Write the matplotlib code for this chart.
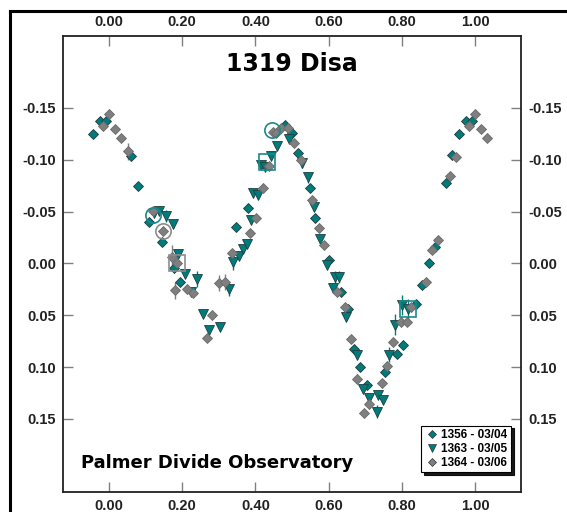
import numpy as np
import matplotlib
matplotlib.use("Agg")
import matplotlib.pyplot as plt
from matplotlib.lines import Line2D

plt.rcParams['font.family'] = ['Liberation Sans', 'DejaVu Sans']

# phase / magnitude data, phase in [0, 1)
ph_1356 = [0.060, 0.078, 0.108, 0.144, 0.178, 0.194, 0.346, 0.381, 0.482, 0.500,
           0.517, 0.548, 0.564, 0.600, 0.635, 0.654, 0.669, 0.686, 0.704, 0.753,
           0.786, 0.804, 0.839, 0.855, 0.874, 0.890, 0.921, 0.937, 0.957, 0.975, 0.993]
mag_1356 = [-0.104, -0.075, -0.040, -0.021, 0.004, 0.018, -0.035, -0.053, -0.134, -0.126,
            -0.107, -0.073, -0.044, -0.003, 0.028, 0.044, 0.083, 0.100, 0.117, 0.105,
            0.087, 0.079, 0.039, 0.021, 0.000, -0.016, -0.078, -0.105, -0.125, -0.137, -0.137]
err_1356 = [0, 0, 0, 0, 0, 0, 0, 0, 0, 0,
            0, 0, 0, 0, 0, 0, 0, 0, 0, 0,
            0, 0, 0, 0, 0, 0, 0, 0, 0, 0, 0]

ph_1363 = [0.124, 0.137, 0.156, 0.174, 0.189, 0.207, 0.223, 0.240, 0.258, 0.274,
           0.304, 0.329, 0.340, 0.356, 0.365, 0.376, 0.389, 0.394, 0.407, 0.415,
           0.425, 0.442, 0.458, 0.493, 0.527, 0.544, 0.560, 0.577, 0.595, 0.611,
           0.617, 0.628, 0.647, 0.677, 0.695, 0.711, 0.731, 0.735, 0.748, 0.764,
           0.781, 0.801, 0.817]
mag_1363 = [-0.049, -0.051, -0.046, -0.038, -0.009, 0.010, 0.028, 0.015, 0.049, 0.064,
            0.061, 0.025, -0.001, -0.007, -0.014, -0.019, -0.042, -0.068, -0.066, -0.095,
            -0.093, -0.104, -0.113, -0.120, -0.097, -0.083, -0.054, -0.024, 0.002, 0.024,
            0.013, 0.013, 0.052, 0.088, 0.121, 0.130, 0.143, 0.127, 0.132, 0.088,
            0.059, 0.040, 0.044]
err_1363 = [0, 0, 0.006, 0, 0, 0, 0, 0.008, 0, 0,
            0, 0.006, 0.007, 0, 0, 0, 0, 0, 0, 0,
            0, 0, 0, 0, 0.005, 0.005, 0, 0, 0, 0,
            0.006, 0.006, 0, 0, 0, 0, 0.006, 0, 0, 0.007,
            0.010, 0.010, 0.010]

ph_1364 = [0.983, 0.001, 0.017, 0.033, 0.052, 0.119, 0.148, 0.171, 0.185, 0.180,
           0.214, 0.230, 0.267, 0.282, 0.301, 0.317, 0.335, 0.385, 0.402, 0.420,
           0.436, 0.449, 0.456, 0.469, 0.488, 0.506, 0.524, 0.556, 0.573, 0.588,
           0.624, 0.644, 0.660, 0.677, 0.697, 0.711, 0.746, 0.760, 0.777, 0.797,
           0.813, 0.826, 0.865, 0.882, 0.899, 0.931, 0.947]
mag_1364 = [-0.133, -0.144, -0.130, -0.121, -0.108, -0.051, -0.031, -0.006, 0.000, 0.026,
            0.025, 0.029, 0.072, 0.050, 0.019, 0.018, -0.010, -0.029, -0.044, -0.073,
            -0.094, -0.127, -0.126, -0.131, -0.131, -0.116, -0.100, -0.061, -0.034, -0.018,
            0.028, 0.042, 0.073, 0.112, 0.144, 0.136, 0.115, 0.099, 0.076, 0.057,
            0.057, 0.042, 0.018, -0.013, -0.023, -0.084, -0.103]
err_1364 = [0, 0, 0, 0, 0.008, 0, 0, 0.012, 0, 0.008,
            0, 0, 0, 0, 0.008, 0.008, 0, 0, 0, 0,
            0, 0, 0, 0, 0, 0, 0, 0, 0, 0,
            0, 0, 0, 0, 0, 0, 0, 0, 0, 0,
            0, 0, 0, 0, 0, 0, 0]

# highlighted reference points (open symbols)
circ_ph = [0.121, 0.148, 0.445]
circ_mag = [-0.047, -0.031, -0.129]
circ_col = ['#1a8a8a', '#8c8c8c', '#1a8a8a']
sq_ph = [0.185, 0.431, 0.817]
sq_mag = [0.000, -0.098, 0.044]
sq_col = ['#8c8c8c', '#1a8a8a', '#1a8a8a']

series = [
    ('1356 - 03/04', ph_1356, mag_1356, err_1356, 'D', '#007b7b', 5.0),
    ('1363 - 03/05', ph_1363, mag_1363, err_1363, 'v', '#007b7b', 6.5),
    ('1364 - 03/06', ph_1364, mag_1364, err_1364, 'D', '#7f7f7f', 5.0),
]


def wrap(ph, mag, err, lo=-0.05, hi=1.05):
    """repeat points near the ends of the phase range"""
    ph = np.asarray(ph); mag = np.asarray(mag); err = np.asarray(err)
    x = np.concatenate([ph, ph - 1, ph + 1])
    y = np.concatenate([mag, mag, mag])
    e = np.concatenate([err, err, err])
    keep = (x >= lo) & (x < hi)
    return x[keep], y[keep], e[keep]


fig = plt.figure(figsize=(5.67, 5.12), dpi=100)
ax = fig.add_axes([0.111, 0.039, 0.808, 0.891])

handles = []
for label, ph, mag, err, mk, col, ms in series:
    x, y, e = wrap(ph, mag, err)
    has = e > 0
    ax.errorbar(x[has], y[has], yerr=e[has], fmt='none', ecolor=col, elinewidth=1, zorder=2)
    ax.plot(x, y, ls='none', marker=mk, ms=ms, mfc=col, mec='#1f3f3f' if col != '#7f7f7f' else '#6a6a6a',
            mew=0.6, zorder=3)
    handles.append(Line2D([], [], ls='none', marker=mk, ms=ms - 0.5, mfc=col, mec='#333333',
                          mew=0.5, label=label))

for x, y, c in zip(circ_ph, circ_mag, circ_col):
    ax.plot(x, y, ls='none', marker='o', ms=11, mfc='none', mec=c, mew=1.2, zorder=4)
for x, y, c in zip(sq_ph, sq_mag, sq_col):
    ax.plot(x, y, ls='none', marker='s', ms=11, mfc='none', mec=c, mew=1.2, zorder=4)

ax.set_xlim(-0.126, 1.126)
ax.set_ylim(0.2206, -0.2196)
ax.set_xticks(np.arange(0, 1.01, 0.2))
ax.set_yticks([-0.15, -0.10, -0.05, 0.0, 0.05, 0.10, 0.15])
ax.xaxis.set_major_formatter(matplotlib.ticker.FormatStrFormatter('%.2f'))
ax.yaxis.set_major_formatter(matplotlib.ticker.FormatStrFormatter('%.2f'))
ax.tick_params(direction='in', length=7, width=1, color='#808080',
               top=True, right=True, labeltop=True, labelright=True,
               labelsize=10.5, labelcolor='#222222', pad=5)
for t in ax.xaxis.get_major_ticks() + ax.yaxis.get_major_ticks():
    t.label1.set_fontweight('bold'); t.label2.set_fontweight('bold')
for sp in ax.spines.values():
    sp.set_color('#222222'); sp.set_linewidth(1.3)

ax.text(0.5, 0.965, '1319 Disa', transform=ax.transAxes, ha='center', va='top',
        fontsize=17, fontweight='bold', color='black', family='DejaVu Sans')
ax.text(0.04, 0.063, 'Palmer Divide Observatory', transform=ax.transAxes, ha='left',
        va='center', fontsize=13, fontweight='bold', color='black', family='DejaVu Sans')

leg = ax.legend(handles=handles, loc='lower right', bbox_to_anchor=(0.983, 0.038),
                fontsize=8.5, frameon=True, fancybox=False,
                shadow={'color': 'black', 'alpha': 0.9},
                handletextpad=0.2, borderpad=0.3, labelspacing=0.15, handlelength=1.2,
                borderaxespad=0.2)
leg.get_frame().set_edgecolor('black')
leg.get_frame().set_linewidth(0.8)
for t in leg.get_texts():
    t.set_fontweight('bold')

# outer frame lines
fx = 10 / 567
fy = 1 - 11 / 512
fig.add_artist(Line2D([fx, fx], [0, fy], transform=fig.transFigure, color='black', lw=2.2))
fig.add_artist(Line2D([fx, 1], [fy, fy], transform=fig.transFigure, color='black', lw=2.2))

fig.savefig('out.png', dpi=100)
